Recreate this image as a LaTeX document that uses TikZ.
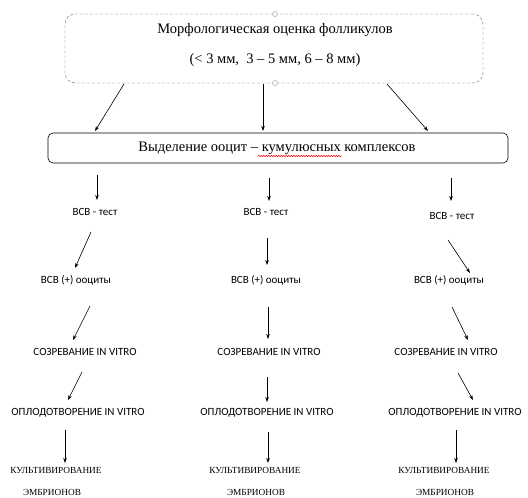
\documentclass[tikz,border=0pt]{standalone}
\usepackage{fontspec}
\setmainfont{Liberation Serif}
\newfontfamily\calib{Carlito}
\usetikzlibrary{arrows.meta,decorations.pathmorphing}
\begin{document}
\begin{tikzpicture}[x=1pt,y=-1pt,
  arr/.style={draw=black, line width=0.6pt, -{Stealth[length=5pt,width=3.5pt]}},
  lbl/.style={font=\calib\fontsize{11}{12}\selectfont, inner sep=0},
  cult/.style={font=\fontsize{9.3}{11}\selectfont, inner sep=0},
  ttl/.style={font=\fontsize{14.5}{16}\selectfont, inner sep=0},
  handle/.style={circle, draw=gray!70, fill=white, inner sep=0, minimum size=5pt, line width=0.5pt}
]
\useasboundingbox (0,0) rectangle (528,498);
\fill[white] (0,0) rectangle (528,498);
% top box
\node (top) [draw=gray!80!black, densely dashed, rounded corners=10pt, minimum width=418pt, minimum height=69pt, inner sep=0] at (274,48.5) {};
\node (t1) [ttl] at (275,30) {Морфологическая оценка фолликулов};
\node (t2) [ttl] at (275,60) {(< 3 мм,\ \ 3 – 5 мм, 6 – 8 мм)};
\node (h1) [handle] at (275,14) {};
\node (h2) [handle] at (275,83) {};
% selection box
\node (sel) [draw=black, line width=0.6pt, rounded corners=5pt, minimum width=460pt, minimum height=30pt, inner sep=0] at (278,148) {};
\node (st) [ttl] at (277,148) {Выделение ооцит – кумулюсных комплексов};
\draw[red, line width=0.5pt, decorate, decoration={snake, amplitude=0.7pt, segment length=2.5pt}] (258,156) -- (342,156);
% column labels
\foreach \n/\x/\y in {aL/95/212, aM/266/212, aR/452/216}
  \node (\n) [lbl] at (\x,\y) {ВСВ - тест};
\foreach \n/\x/\y in {bL/76/280, bM/266/280, bR/449/280}
  \node (\n) [lbl] at (\x,\y) {ВСВ (+) ооциты};
\foreach \n/\x/\y in {cL/85/352, cM/269/352, cR/446/352}
  \node (\n) [lbl] at (\x,\y) {СОЗРЕВАНИЕ IN VITRO};
\foreach \n/\x/\y in {dL/78/413, dM/267/413, dR/455/413}
  \node (\n) [lbl] at (\x,\y) {ОПЛОДОТВОРЕНИЕ IN VITRO};
\foreach \n/\x/\y in {eL/56/470, eM/255/470, eR/444/470}
  \node (\n) [cult] at (\x,\y) {КУЛЬТИВИРОВАНИЕ};
\foreach \n/\x/\y in {fL/52/492, fM/256/492, fR/445/492}
  \node (\n) [cult] at (\x,\y) {ЭМБРИОНОВ};
% arrows
\foreach \n/\sx/\sy/\ex/\ey in {
  p1/124/84/95/131, p2/263/84/263/131, p3/387/84/428/131,
  q1/97/175/97/200, q2/269/178/269/201, q3/451/178/451/201,
  r1/91/232/75/268, r2/267/238/267/265, r3/448/240/470/273,
  s1/90/306/73/340, s2/268/307/268/339, s3/452/307/468/340,
  u1/82/372/68/400, u2/267/377/267/402, u3/458/373/473/400,
  v1/65/430/65/463, v2/268/432/268/463, v3/456/430/456/463}{
  \coordinate (\n s) at (\sx,\sy);
  \coordinate (\n e) at (\ex,\ey);
  \draw[arr] (\n s) -- (\n e);
}
\end{tikzpicture}
\end{document}
